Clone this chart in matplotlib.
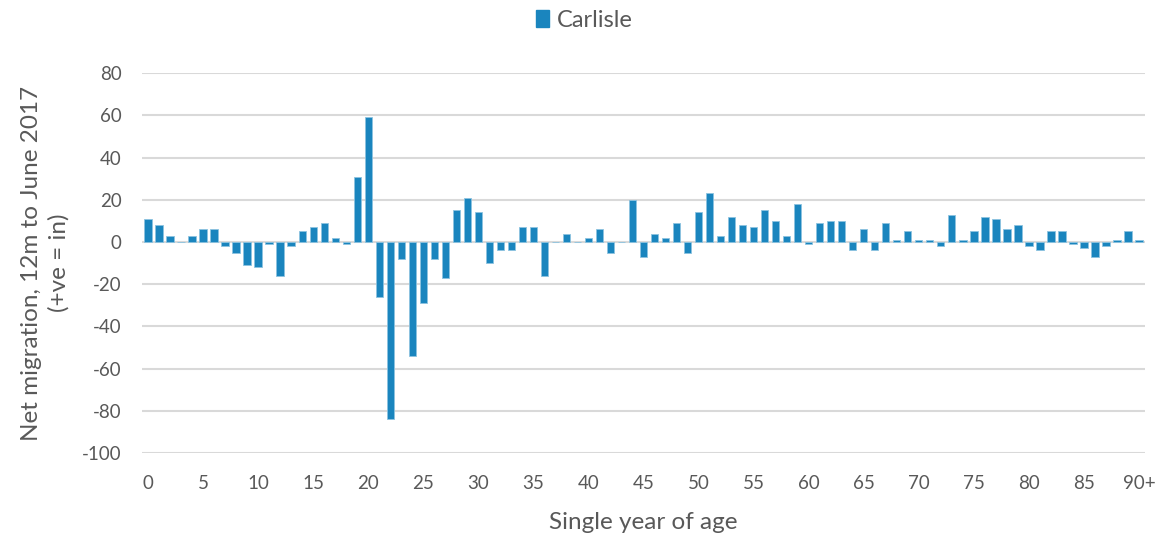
import matplotlib
matplotlib.use("Agg")
import matplotlib.pyplot as plt
from matplotlib.patches import Patch

ages = list(range(91))
age_labels = [str(a) if a < 90 else "90+" for a in ages]
carlisle = [11, 8, 3, 0, 3, 6, 6, -2, -5, -11,
            -12, -1, -16, -2, 5, 7, 9, 2, -1, 31,
            59, -26, -84, -8, -54, -29, -8, -17, 15, 21,
            14, -10, -4, -4, 7, 7, -16, 0, 4, 0,
            2, 6, -5, 0, 20, -7, 4, 2, 9, -5,
            14, 23, 3, 12, 8, 7, 15, 10, 3, 18,
            -1, 9, 10, 10, -4, 6, -4, 9, 1, 5,
            1, 1, -2, 13, 1, 5, 12, 11, 6, 8,
            -2, -4, 5, 5, -1, -3, -7, -2, 1, 5, 1]
yticks = list(range(-100, 81, 20))

plt.rcParams['font.family'] = ['Lato', 'DejaVu Sans']
text_color = '#595959'
bar_color = '#1a85be'

fig = plt.figure(figsize=(11.62, 5.38), dpi=100)
ax = fig.add_axes([0.1226, 0.158, 0.8624, 0.706])
ax.bar(ages, carlisle, width=0.66, color=bar_color, edgecolor='#8cc3e0', linewidth=0.6, zorder=3)

ax.set_xlim(-0.5, 90.5)
ax.set_ylim(-100, 80)
ax.set_yticks(yticks)
ax.set_yticklabels([str(v) for v in yticks])
ax.set_xticks(ages[::5])
ax.set_xticklabels([age_labels[i] for i in range(0, 91, 5)])
ax.grid(axis='y', color='#d9d9d9', linewidth=1.5, zorder=0)
ax.set_axisbelow(True)
for s in ax.spines.values():
    s.set_visible(False)
ax.tick_params(axis='both', length=0, labelsize=13.5, colors=text_color)
ax.tick_params(axis='x', pad=16)
ax.tick_params(axis='y', pad=15)
ax.set_xlabel('Single year of age', fontsize=17.5, color=text_color, labelpad=14)
ax.set_ylabel('Net migration, 12m to June 2017\n(+ve = in)', fontsize=17.5, color=text_color,
              labelpad=9, linespacing=1.35)

handles = [Patch(facecolor=bar_color, edgecolor=bar_color, label='Carlisle')]
fig.legend(handles=handles, loc='center', bbox_to_anchor=(0.503, 0.962), frameon=False,
           fontsize=17, handlelength=0.55, handleheight=0.75, handletextpad=0.35,
           labelcolor=text_color)

fig.savefig('out.png', dpi=100)
